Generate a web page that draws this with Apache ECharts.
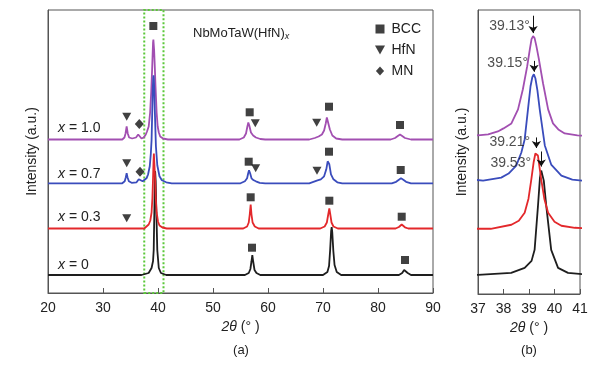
<!DOCTYPE html>
<html>
<head>
<meta charset="utf-8">
<script src="https://cdn.jsdelivr.net/npm/echarts@6/dist/echarts.min.js"></script>
<style>
  html, body { margin: 0; padding: 0; background: #fff; }
  #chart { width: 602px; height: 365px; }
</style>
</head>
<body>
<div id="chart"></div>
<script>
// XRD patterns of NbMoTaW(HfN)x, intensity read relative to each trace's own baseline
const sampleLabels = ["0", "0.3", "0.7", "1.0"];
const sampleColors = ["#1e1e1e", "#e3282b", "#3a4cbc", "#a24fb1"];
const offsetsA = [18, 64.5, 109.7, 153.5];
const offsetsB = [19, 65, 111, 157];

const traceX0 = [
  [20, 0], [37, 0], [38.3, 2], [38.83, 7], [39.1, 14], [39.22, 25], [39.35, 68], [39.43, 97],
  [39.48, 104], [39.52, 104], [39.58, 94], [39.68, 68], [39.87, 25], [40.14, 7], [40.53, 2], [41.5, 0],
  [55.8, 0], [56.5, 2], [56.8, 6], [56.98, 13], [57.15, 20], [57.32, 13], [57.55, 5], [57.9, 2], [58.6, 0],
  [70, 0], [70.8, 3], [71.1, 9], [71.3, 25], [71.48, 44], [71.58, 48], [71.68, 43], [71.88, 24],
  [72.1, 10], [72.5, 3], [73.3, 0],
  [83.8, 0], [84.4, 2], [84.75, 5], [84.91, 6], [85.1, 5], [85.4, 2], [86, 0], [90, 0]
];
const traceX03 = [
  [20, 0], [37.5, 0], [38.31, 4], [38.6, 8], [38.83, 16], [38.98, 30], [39.09, 49], [39.18, 66],
  [39.25, 75], [39.3, 76], [39.35, 73], [39.48, 49], [39.6, 30], [39.75, 16], [40, 7], [40.27, 3], [40.8, 1], [41.6, 0],
  [55.5, 0], [56.2, 2], [56.5, 6], [56.68, 14], [56.85, 24], [57, 14], [57.2, 6], [57.6, 2], [58.3, 0],
  [69.5, 0], [70.3, 2], [70.7, 6], [70.95, 14], [71.15, 20], [71.3, 15], [71.55, 6], [71.9, 2], [72.7, 0],
  [83.2, 0], [83.8, 1.5], [84.1, 3.5], [84.31, 4], [84.55, 3], [84.9, 1.2], [85.5, 0], [90, 0]
];
const traceX07 = [
  [20, 0], [33.5, 0], [33.95, 2], [34.15, 6], [34.3, 10], [34.45, 6], [34.7, 2], [35.2, 0.5],
  [36.1, 1], [36.5, 4], [36.8, 3], [37.2, 2], [37.91, 5], [38.2, 9], [38.5, 17], [38.7, 30],
  [38.83, 43], [38.96, 73], [39.06, 96], [39.13, 105], [39.19, 108], [39.25, 104], [39.33, 92],
  [39.42, 73], [39.62, 37], [39.87, 18], [40.27, 7], [40.7, 3], [41.5, 1], [42.5, 0],
  [55, 0], [55.8, 2], [56.2, 5], [56.4, 10], [56.55, 13], [56.75, 10], [57, 5], [57.4, 3], [57.8, 2],
  [58.5, 0.5], [59.5, 0],
  [67.5, 0], [68.5, 2], [69, 3], [69.6, 4], [70.2, 7], [70.6, 14], [70.85, 22], [70.96, 23],
  [71.15, 19], [71.45, 9], [71.9, 4], [72.6, 1], [73.5, 0],
  [82.5, 0], [83.3, 1.5], [83.8, 3.5], [84.18, 5], [84.6, 3.5], [85.1, 1.5], [86, 0], [90, 0]
];
const traceX10 = [
  [20, 0], [33.5, 0], [33.9, 2], [34.1, 6], [34.3, 13], [34.5, 6], [34.75, 2], [35.3, 1],
  [36, 2], [36.4, 5], [36.7, 3], [37, 1], [37.4, 2], [37.78, 5], [38, 8], [38.31, 13], [38.57, 27],
  [38.76, 47], [38.93, 70], [39.04, 88], [39.1, 97], [39.16, 100], [39.22, 98], [39.29, 90],
  [39.38, 78], [39.55, 53], [39.75, 27], [39.94, 13], [40.15, 7], [40.4, 3], [40.9, 1], [41.8, 0],
  [54.8, 0], [55.6, 2], [56, 6], [56.25, 13], [56.42, 17], [56.6, 14], [56.9, 7], [57.3, 4],
  [57.8, 2], [58.6, 0.5], [59.5, 0],
  [67.5, 0], [68.5, 1.5], [69.2, 3], [69.8, 5], [70.2, 9], [70.5, 16], [70.7, 22], [70.78, 23],
  [70.95, 20], [71.25, 10], [71.7, 4], [72.4, 1], [73.5, 0],
  [82.3, 0], [83.1, 1.5], [83.6, 3.5], [84, 5], [84.4, 3.5], [84.9, 1.5], [86, 0], [90, 0]
];
const traces = [traceX0, traceX03, traceX07, traceX10];
const drawOrder = [0, 3, 2, 1];

// phase markers in panel (a), [2theta, intensity]
const bccPoints = [
  [39.15, 267], [56.67, 180.7], [71.09, 186.3], [84.0, 168],
  [56.49, 131.3], [71.09, 141.3], [84.13, 123],
  [56.85, 95.7], [71.15, 92.3], [84.31, 76.3],
  [57.09, 45.3], [84.91, 33]
];
const hfnPoints = [
  [34.31, 176.3], [57.69, 169.7], [68.85, 170.3],
  [34.31, 129.7], [57.76, 124.7], [68.91, 122.3],
  [34.31, 74.7]
];
const mnPoints = [[36.6, 169], [36.73, 121.3]];

// peak position annotations in panel (b)
const peakTexts = ["39.53°", "39.21°", "39.15°", "39.13°"];
const peakTextPos = [[39.08, 130], [39.04, 151], [38.96, 230], [39.03, 266.7]];
const arrowX = [39.48, 39.29, 39.2, 39.16];
const arrowFrom = [142, 156, 232.3, 277.3];
const arrowTo = [127, 145.5, 221.5, 260];

const zoomRange = [37.5, 41];

const font = "Liberation Sans, Arial, sans-serif";
const ink = "#222";
const frame = "#555";
const triangleDown = "path://M0,0L10,0L5,9Z";

function shift(points, off) {
  return points.map(p => [p[0], p[1] + off]);
}

function xAxisCfg(gridIndex, min, max, interval) {
  return {
    type: "value", gridIndex, min, max, interval,
    name: "{i|2θ} (° )",
    nameLocation: "middle",
    nameGap: 24,
    nameTextStyle: { fontSize: 14, color: ink, fontFamily: font,
      rich: { i: { fontSize: 14, fontStyle: "italic", color: ink, fontFamily: font } } },
    axisLine: { show: true, lineStyle: { color: frame, width: 1 } },
    axisTick: { show: true, inside: true, length: 5, lineStyle: { color: frame } },
    axisLabel: { fontSize: 14, color: ink, margin: 8, fontFamily: font },
    splitLine: { show: false }
  };
}

function yAxisCfg(gridIndex) {
  return {
    type: "value", gridIndex, min: 0, max: 283,
    name: "Intensity (a.u.)",
    nameLocation: "middle",
    nameGap: 9,
    nameTextStyle: { fontSize: 14, color: ink, fontFamily: font },
    axisLine: { show: true, lineStyle: { color: frame, width: 1 } },
    axisTick: { show: false },
    axisLabel: { show: false },
    splitLine: { show: false }
  };
}

const series = [];
drawOrder.forEach((k, i) => {
  const line = {
    type: "line", name: "x=" + sampleLabels[k],
    xAxisIndex: 0, yAxisIndex: 0,
    data: shift(traces[k], offsetsA[k]),
    showSymbol: false, silent: true,
    lineStyle: { color: sampleColors[k], width: 1.8 },
    itemStyle: { color: sampleColors[k] }
  };
  if (i === 0) {
    line.markArea = {
      silent: true,
      itemStyle: { color: "rgba(0,0,0,0)", borderColor: "#5cc83a", borderWidth: 2, borderType: "dotted" },
      data: [[{ xAxis: zoomRange[0], yAxis: 0 }, { xAxis: zoomRange[1], yAxis: 283 }]]
    };
  }
  series.push(line);
  series.push({
    type: "line", name: "b x=" + sampleLabels[k],
    xAxisIndex: 1, yAxisIndex: 1,
    data: shift(traces[k], offsetsB[k]),
    showSymbol: false, silent: true, clip: true,
    lineStyle: { color: sampleColors[k], width: 1.8 },
    itemStyle: { color: sampleColors[k] }
  });
});

series.push(
  { type: "scatter", name: "BCC", xAxisIndex: 0, yAxisIndex: 0, data: bccPoints,
    symbol: "rect", symbolSize: 8, itemStyle: { color: "#111" }, z: 5 },
  { type: "scatter", name: "HfN", xAxisIndex: 0, yAxisIndex: 0, data: hfnPoints,
    symbol: triangleDown, symbolSize: [9, 8], itemStyle: { color: "#111" }, z: 5 },
  { type: "scatter", name: "MN", xAxisIndex: 0, yAxisIndex: 0, data: mnPoints,
    symbol: "diamond", symbolSize: [9, 10], itemStyle: { color: "#111" }, z: 5 },
  { type: "scatter", name: "peaks", xAxisIndex: 1, yAxisIndex: 1,
    data: peakTextPos, symbolSize: 0, z: 6,
    label: { show: true, position: "left", distance: 0, fontSize: 14, color: ink, fontFamily: font,
      formatter: p => peakTexts[p.dataIndex] },
    markLine: {
      silent: true, animation: false,
      symbol: ["none", "arrow"], symbolSize: 7,
      lineStyle: { color: "#111", width: 1, type: "solid" },
      label: { show: false },
      data: arrowX.map((x, i) => [{ coord: [x, arrowFrom[i]] }, { coord: [x, arrowTo[i]] }])
    } }
);

function sampleText(i, y) {
  return {
    type: "text", x: 58, y,
    style: { text: "{i|x} = " + sampleLabels[i], fontSize: 14, fill: ink, fontFamily: font,
      verticalAlign: "middle",
      rich: { i: { fontSize: 14, fontStyle: "italic", fill: ink, fontFamily: font } } }
  };
}

const chart = echarts.init(document.getElementById("chart"));
chart.setOption({
  animation: false,
  textStyle: { fontFamily: font },
  grid: [
    { left: 48, top: 10, width: 385, height: 283, show: true, borderColor: frame, borderWidth: 1,
      backgroundColor: "transparent", outerBoundsMode: "none" },
    { left: 478, top: 10, width: 102, height: 284, show: true, borderColor: frame, borderWidth: 1,
      backgroundColor: "transparent", outerBoundsMode: "none" }
  ],
  xAxis: [xAxisCfg(0, 20, 90, 10), xAxisCfg(1, 37, 41, 1)],
  yAxis: [yAxisCfg(0), yAxisCfg(1)],
  legend: {
    left: 370, top: 17, orient: "vertical",
    itemWidth: 13, itemHeight: 9, itemGap: 7,
    selectedMode: false,
    textStyle: { fontSize: 14, color: ink, fontFamily: font, lineHeight: 14 },
    data: [
      { name: "BCC", icon: "path://M0,0H10V10H0Z" },
      { name: "HfN", icon: triangleDown },
      { name: "MN", icon: "path://M5,0L10,5.5L5,11L0,5.5Z" }
    ],
    itemStyle: { color: "#111" }
  },
  graphic: [
    sampleText(3, 128), sampleText(2, 174), sampleText(1, 217), sampleText(0, 265),
    { type: "text", x: 193, y: 33,
      style: { text: "NbMoTaW(HfN){s|x}", fontSize: 13, fill: ink, fontFamily: font, verticalAlign: "middle",
        rich: { s: { fontSize: 9, fontStyle: "italic", fill: ink, fontFamily: font, verticalAlign: "bottom", padding: [6, 0, 0, 0] } } } },
    { type: "text", x: 241, y: 350,
      style: { text: "(a)", fontSize: 13, fill: ink, fontFamily: font, align: "center", verticalAlign: "middle" } },
    { type: "text", x: 529, y: 350,
      style: { text: "(b)", fontSize: 13, fill: ink, fontFamily: font, align: "center", verticalAlign: "middle" } }
  ],
  series
});
window.addEventListener("resize", () => chart.resize());
</script>
</body>
</html>
